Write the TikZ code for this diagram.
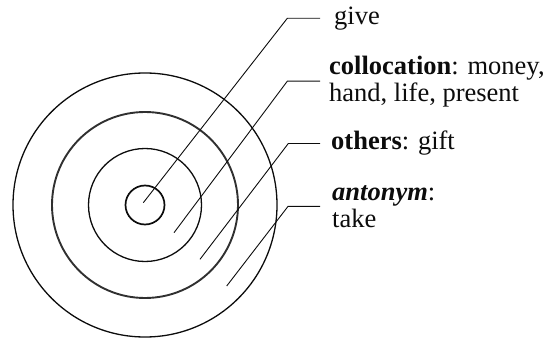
\documentclass[tikz,border=0pt]{standalone}
\usepackage{fontspec}
\setmainfont{Liberation Serif}
\usetikzlibrary{positioning}
\definecolor{ink}{RGB}{12,12,12}

\begin{document}
\begin{tikzpicture}[x=1pt,y=-1pt,
    ring/.style={circle,draw=ink,line width=1.3pt,inner sep=0pt,minimum size=#1},
    leader/.style={draw=ink,line width=0.9pt},
    lbl/.style={anchor=west,inner ysep=0pt,align=left,text=ink,
      font=\fontsize{26.5}{27}\selectfont}]
  \useasboundingbox (0,0) rectangle (548,339);
  \coordinate (c) at (145,205);
  \node[ring=39pt,line width=1.7pt] (core) at (c) {};
  \node[ring=113pt] (inner) at (c) {};
  \node[ring=186pt,line width=1.9pt,draw=ink!85] (middle) at (c) {};
  \node[ring=264pt] (outer) at (c) {};

  \node[lbl,inner xsep=14pt] (give) at (320,18.3) {give};
  \node[lbl,inner xsep=9pt] (colloc) at (320,81.2)
    {\textbf{collocation}: money,\\hand, life, present};
  \node[lbl,inner xsep=11pt] (others) at (320,143.5) {\textbf{others}: gift};
  \node[lbl,inner xsep=12pt] (anton) at (320,206.4)
    {\textbf{\textit{antonym}}:\\take};

  \coordinate (t1) at (143.3,202.7);
  \coordinate (t2) at (174,232.7);
  \coordinate (t3) at (200,259.3);
  \coordinate (t4) at (226.7,286);
  \coordinate (k1) at (287.3,18.3);
  \coordinate (k2) at (287.3,81.2);
  \coordinate (k3) at (288.3,143.5);
  \coordinate (k4) at (288,206.4);

  \draw[leader] (t1) -- (k1) -- (give.west);
  \draw[leader] (t2) -- (k2) -- (colloc.west);
  \draw[leader] (t3) -- (k3) -- (others.west);
  \draw[leader] (t4) -- (k4) -- (anton.west);
\end{tikzpicture}
\end{document}
